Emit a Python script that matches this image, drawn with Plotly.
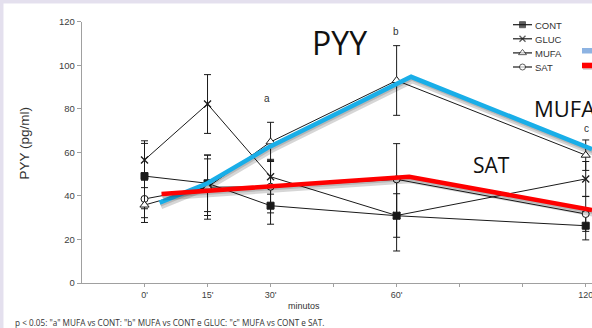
import plotly.graph_objects as go

# ---------------- data ----------------
time_labels = ["0'", "15'", "30'", "60'", "120"]
time_slots = [0, 1, 2, 4, 7]          # slot of each time on the (uneven) category axis
axis_slot_labels = ["0'", "15'", "30'", "", "60'", "", "", "120"]

cont = [49.1, 45.8, 35.5, 30.9, 26.3]
cont_err = [15.0, 13.0, 8.5, 16.2, 6.5]
gluc = [56.5, 82.2, 48.8, 31.0, 47.8]
gluc_err = [8.8, 13.5, 8.0, 10.0, 8.0]
mufa = [35.8, 44.0, 64.8, 93.0, 58.7]
mufa_err = [8.0, 13.0, 9.0, 16.0, 7.0]
sat = [38.6, 44.0, 44.2, 47.6, 31.7]
sat_err = [8.6, 14.7, 12.0, 16.4, 8.0]

# hand-drawn highlight lines (slide overlay), in axis units
blue_x = [0.24, 1.0, 1.98, 4.23, 7.1]
blue_y = [36.9, 45.8, 62.5, 94.7, 61.5]
red_x = [0.27, 4.20, 7.1]
red_y = [40.9, 48.8, 33.5]

legend_names = ["CONT", "GLUC", "MUFA", "SAT"]

# ---------------- layout geometry (pixels) ----------------
W, H = 592, 328
X0_PX, X_UNIT = 144.5, 63.03        # slot 0 pixel, px per slot
Y0_PX, Y120_PX = 283.0, 21.7
AX_LEFT_PX = 81.7
PX_PER_Y = (Y0_PX - Y120_PX) / 120.0


def px(x):
    return x / W


def py(y):
    return 1 - y / H


BLACK = "#1a1a1a"
styles = {
    "CONT": dict(symbol="square", color=BLACK, line=dict(color=BLACK, width=1), size=7),
    "GLUC": dict(symbol="x-thin", color=BLACK, line=dict(color=BLACK, width=1.3), size=7),
    "MUFA": dict(symbol="triangle-up", color="white", line=dict(color=BLACK, width=1), size=8),
    "SAT": dict(symbol="circle", color="white", line=dict(color=BLACK, width=1), size=7),
}
series = {"CONT": (cont, cont_err), "GLUC": (gluc, gluc_err),
          "MUFA": (mufa, mufa_err), "SAT": (sat, sat_err)}

fig = go.Figure()

for name in ["CONT", "GLUC", "SAT", "MUFA"]:
    vals, errs = series[name]
    fig.add_trace(go.Scatter(
        x=time_slots, y=vals, mode="lines+markers", name=name,
        line=dict(color=BLACK, width=1),
        marker=styles[name],
        error_y=dict(type="data", array=errs, visible=True, color=BLACK,
                     thickness=1, width=3.5),
        showlegend=False, cliponaxis=False,
    ))

# overlay highlight lines with soft shadow
sdx, sdy = 1.2 / X_UNIT, 3.0 / PX_PER_Y
for xs, ys, col in [(blue_x, blue_y, "#19AEE8"), (red_x, red_y, "#FF0000")]:
    fig.add_trace(go.Scatter(
        x=[v + sdx for v in xs], y=[v - sdy for v in ys], mode="lines",
        line=dict(color="rgba(0,0,0,0.16)", width=7), showlegend=False,
        hoverinfo="skip", cliponaxis=False))
    fig.add_trace(go.Scatter(
        x=[v + sdx * 0.5 for v in xs], y=[v - sdy * 0.5 for v in ys], mode="lines",
        line=dict(color="rgba(0,0,0,0.14)", width=5), showlegend=False,
        hoverinfo="skip", cliponaxis=False))
    fig.add_trace(go.Scatter(
        x=xs, y=ys, mode="lines", line=dict(color=col, width=4.5),
        showlegend=False, hoverinfo="skip", cliponaxis=False))

# custom legend drawn on a pixel-space overlay axis pair
leg_x0, leg_x1, leg_row0, leg_dy = 513, 532, 24.7, 14.1
for i, name in enumerate(legend_names):
    yy = leg_row0 + i * leg_dy
    st = dict(styles[name])
    st["size"] = [0, st["size"] - 1, 0]
    fig.add_trace(go.Scatter(
        x=[leg_x0, (leg_x0 + leg_x1) / 2, leg_x1], y=[yy] * 3,
        xaxis="x2", yaxis="y2", mode="lines+markers",
        line=dict(color=BLACK, width=1.2), marker=st,
        showlegend=False, hoverinfo="skip", cliponaxis=False))

shapes = [
    dict(type="rect", xref="paper", yref="paper", x0=px(3.5), x1=1.0, y0=0, y1=py(3.5),
         fillcolor="white", line=dict(width=0), layer="below"),
    # legend colour keys (cut off at the right edge)
    dict(type="rect", xref="paper", yref="paper", x0=px(582), x1=px(595), y0=py(53.5), y1=py(48),
         fillcolor="#8DB3E2", line=dict(width=0)),
    dict(type="rect", xref="paper", yref="paper", x0=px(583), x1=px(595), y0=py(70), y1=py(64.5),
         fillcolor="rgba(0,0,0,0.15)", line=dict(width=0)),
    dict(type="rect", xref="paper", yref="paper", x0=px(582), x1=px(595), y0=py(68.3), y1=py(62.7),
         fillcolor="#FF0000", line=dict(width=0)),
]

TXT = "#333333"
ann = []


def add_text(text, x, y, size, family="Arial", color=TXT, xanchor="center", textangle=0):
    ann.append(dict(text=text, x=px(x), y=py(y), xref="paper", yref="paper",
                    xanchor=xanchor, yanchor="middle", showarrow=False, textangle=textangle,
                    font=dict(size=size, family=family, color=color)))


for i, name in enumerate(legend_names):
    add_text(name, 533, leg_row0 + i * leg_dy + 0.5, 9.5, xanchor="left")

add_text("PYY", 339, 42.5, 32, family="Open Sans", color="#111111")
add_text("MUFA", 532, 108, 22, family="Open Sans", color="#111111", xanchor="left")
add_text("SAT", 492, 165, 21, family="Open Sans", color="#111111")
add_text("a", 267, 99, 10)
add_text("b", 396, 32, 10)
add_text("c", 586.5, 128, 10)
add_text("minutos", 304, 306, 9)
add_text("PYY (pg/ml)", 24, 143.5, 13.5, textangle=-90)
add_text('p < 0.05: "a" MUFA vs CONT: "b" MUFA vs CONT e GLUC: "c" MUFA vs CONT e SAT.',
         13, 322.5, 8.2, family="Open Sans", color="#333333", xanchor="left")

fig.update_layout(
    template="none",
    width=W, height=H, margin=dict(l=0, r=0, t=0, b=0, pad=0, autoexpand=False),
    paper_bgcolor="#E4E0EE", plot_bgcolor="rgba(0,0,0,0)",
    showlegend=False, shapes=shapes, annotations=ann,
    xaxis=dict(domain=[px(AX_LEFT_PX), 1.0], automargin=False, ticklabeloverflow="allow",
               range=[(AX_LEFT_PX - X0_PX) / X_UNIT, (W - X0_PX) / X_UNIT],
               tickmode="array", tickvals=list(range(8)), ticktext=axis_slot_labels,
               ticks="outside", ticklen=3, tickcolor="#A0A0A0", showline=True,
               linecolor="#A0A0A0", linewidth=1, showgrid=False, zeroline=False,
               tickfont=dict(size=9, family="Arial", color="#404040"), fixedrange=True),
    yaxis=dict(domain=[py(Y0_PX), py(Y120_PX)], range=[0, 120], automargin=False,
               tickmode="array", tickvals=[0, 20, 40, 60, 80, 100, 120],
               ticks="outside", ticklen=4, tickcolor="#A0A0A0", showline=True,
               linecolor="#A0A0A0", linewidth=1, showgrid=False, zeroline=False,
               tickfont=dict(size=9.5, family="Arial", color="#404040"), fixedrange=True),
    xaxis2=dict(domain=[0, 1], range=[0, W], visible=False, anchor="y2", fixedrange=True,
                automargin=False),
    yaxis2=dict(domain=[0, 1], range=[H, 0], visible=False, anchor="x2", fixedrange=True,
                automargin=False),
)

fig.write_html("out.html", config={"displayModeBar": False},
               post_script="document.body.style.margin='0';document.body.style.padding='0';")
